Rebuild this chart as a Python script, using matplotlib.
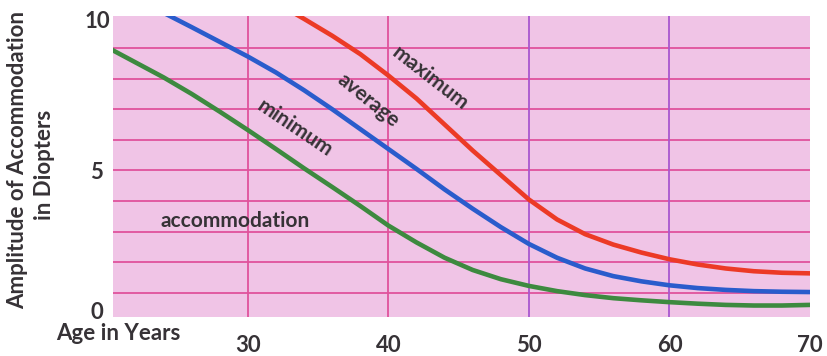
import matplotlib
matplotlib.use("Agg")
import matplotlib.pyplot as plt
from matplotlib.transforms import blended_transform_factory

# Amplitude of accommodation (diopters) against age (years)
age_min = [20, 22, 24, 26, 28, 30, 32, 34, 36, 38, 40, 42, 44, 46, 48, 50,
           52, 54, 56, 58, 60, 62, 64, 66, 68, 70]
minimum = [9.02, 8.53, 8.04, 7.5, 6.92, 6.32, 5.7, 5.07, 4.46, 3.84, 3.2,
           2.65, 2.15, 1.75, 1.45, 1.23, 1.06, 0.93, 0.83, 0.76, 0.7, 0.65,
           0.61, 0.59, 0.59, 0.61]

age_avg = [22, 24, 26, 28, 30, 32, 34, 36, 38, 40, 42, 44, 46, 48, 50, 52,
           54, 56, 58, 60, 62, 64, 66, 68, 70]
average = [10.62, 10.15, 9.68, 9.2, 8.72, 8.2, 7.62, 7.0, 6.35, 5.7, 5.05,
           4.38, 3.75, 3.15, 2.6, 2.15, 1.8, 1.55, 1.38, 1.25, 1.16, 1.1,
           1.06, 1.04, 1.03]

age_max = [32, 34, 36, 38, 40, 42, 44, 46, 48, 50, 52, 54, 56, 58, 60, 62,
           64, 66, 68, 70]
maximum = [10.48, 9.95, 9.4, 8.8, 8.1, 7.35, 6.5, 5.65, 4.85, 4.05, 3.4,
           2.92, 2.58, 2.32, 2.1, 1.93, 1.8, 1.71, 1.66, 1.64]

x_ticks = [30, 40, 50, 60, 70]
y_ticks = [0, 5, 10]

FONT = ["Lato", "DejaVu Sans"]
TEXT = "#363236"
WEIGHT = "bold"

fig = plt.figure(figsize=(8.28, 3.56), dpi=100)
ax = fig.add_axes([113 / 828, 1 - 317 / 356, 697 / 828, 301 / 356])
ax.set_facecolor("#f0c4e6")
ax.set_xlim(20.4, 70.0)
ax.set_ylim(0.215, 10.045)

# graph-paper rules
for v in range(1, 10):
    ax.axhline(v, color="#e0529c", lw=1.3, zorder=1)
for v in (30, 40):
    ax.axvline(v, color="#e0529c", lw=1.3, zorder=1)
for v in (50, 60):
    ax.axvline(v, color="#a957cf", lw=1.3, zorder=1)

ax.plot(age_min, minimum, color="#3d8a3f", lw=3.3, zorder=3)
ax.plot(age_avg, average, color="#2a5ccc", lw=3.3, zorder=3)
ax.plot(age_max, maximum, color="#ec3a26", lw=3.3, zorder=3)

for s in ax.spines.values():
    s.set_visible(False)
ax.set_xticks([])
ax.set_yticks([])

# curve labels
lab = dict(color=TEXT, fontsize=15, family=FONT, weight=WEIGHT, ha="center",
           va="center", rotation_mode="anchor", zorder=4)
ax.text(42.96, 8.02, "maximum", rotation=-38, **lab)
ax.text(38.55, 7.3, "average", rotation=-39, **lab)
ax.text(33.35, 6.39, "minimum", rotation=-34, **lab)
ax.text(29.1, 3.35, "accommodation", **lab)

# axis tick labels
tx = blended_transform_factory(ax.transData, fig.transFigure)
for v in x_ticks:
    ax.text(v, 1 - 345 / 356, str(v), transform=tx, ha="center", va="center",
            fontsize=16, color=TEXT, family=FONT, weight=WEIGHT)
ty = blended_transform_factory(fig.transFigure, ax.transData)
y_pos = {0: 0.36, 5: 4.95, 10: 9.87}
for v in y_ticks:
    ax.text(97 / 828, y_pos[v], str(v), transform=ty, ha="center",
            va="center", fontsize=16, color=TEXT, family=FONT, weight=WEIGHT)

fig.text(118 / 828, 1 - 334 / 356, "Age in Years", ha="center", va="center",
         fontsize=16, color=TEXT, family=FONT, weight=WEIGHT)
fig.text(18 / 828, 1 - 160 / 356, "Amplitude of Accommodation", rotation=90,
         ha="center", va="center", fontsize=16, color=TEXT, family=FONT,
         weight=WEIGHT)
fig.text(45 / 828, 1 - 165 / 356, "in Diopters", rotation=90,
         ha="center", va="center", fontsize=16, color=TEXT, family=FONT,
         weight=WEIGHT)

fig.savefig("out.png", dpi=100)
